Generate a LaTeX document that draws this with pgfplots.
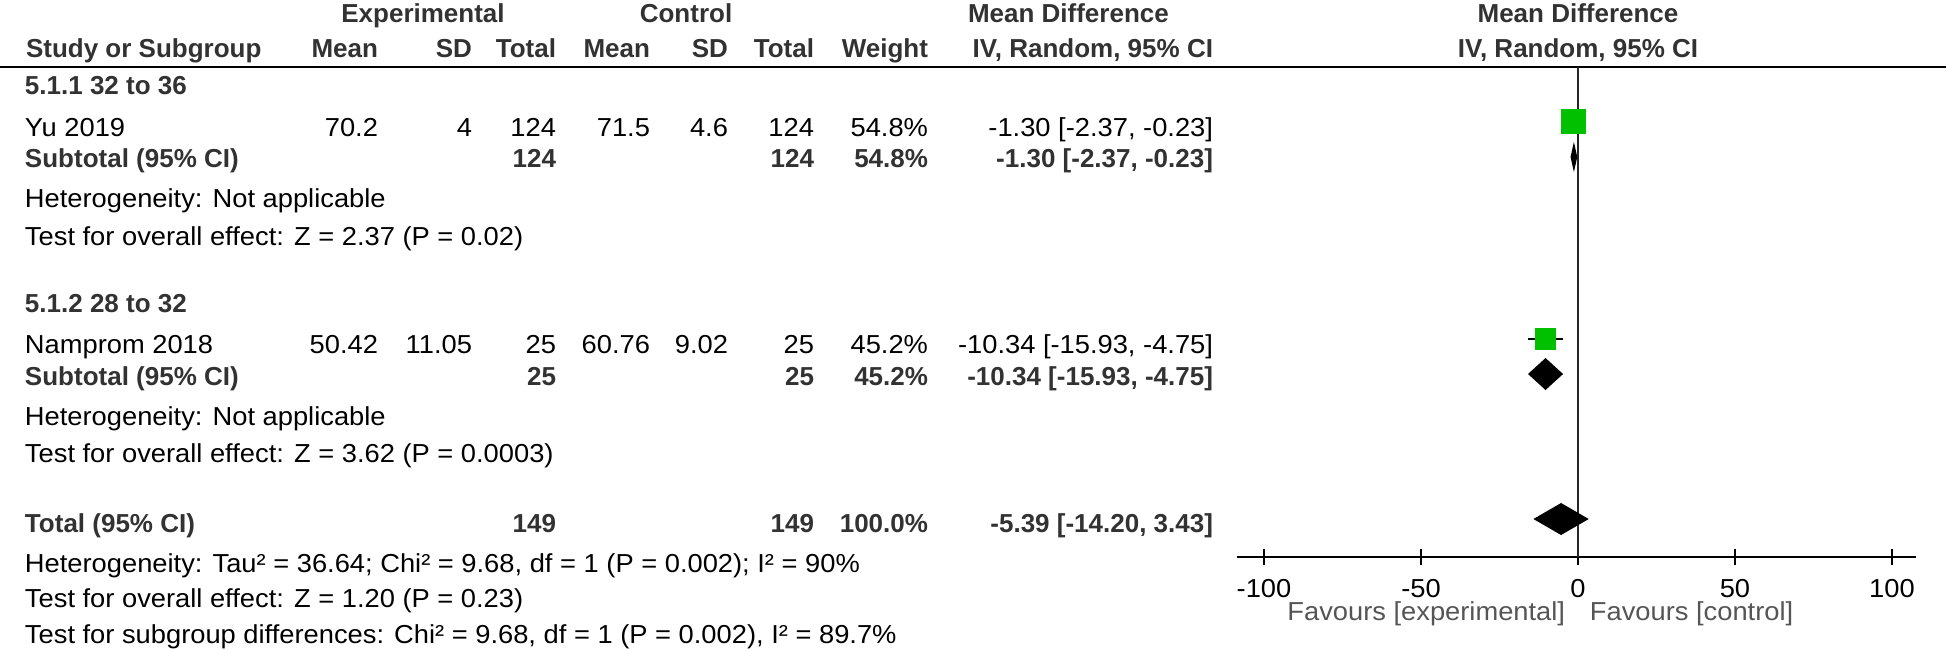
\documentclass[border=0pt]{standalone}
\usepackage{fontspec}
\setmainfont{Liberation Sans}[FakeStretch=1.05]
\newfontfamily\bfam{Liberation Sans}[FakeStretch=1.0]
\usepackage{pgfplots}
\pgfplotsset{compat=1.18}
\definecolor{sqgreen}{RGB}{0,192,0}
\definecolor{bt}{RGB}{50,50,50}
\definecolor{fav}{RGB}{85,85,85}
\newcommand{\BT}[1]{{\bfam\bfseries\color{bt}#1}}
\newcommand{\cR}[3]{\node[anchor=base east] at (#1,#2) {#3};}
\newcommand{\cRB}[3]{\node[anchor=base east] at (#1,#2) {\BT{#3}};}
\newcommand{\cL}[2]{\node[anchor=base west] at (25,#1) {#2};}
\begin{document}
\begin{tikzpicture}[every node/.style={font=\fontsize{13pt}{15pt}\selectfont, inner sep=0pt, outer sep=0pt}]
\begin{scope}[x=0.5pt,y=-0.5pt]
\path[use as bounding box] (0,0) rectangle (1946,649);
\draw[line width=1pt] (0,66.5) -- (1946,66.5);
% group headers
\node[anchor=base] at (423,22) {\BT{Experimental}};
\node[anchor=base] at (686,22) {\BT{Control}};
\node[anchor=base west] at (968,22) {\BT{Mean Difference}};
\node[anchor=base] at (1578,22) {\BT{Mean Difference}};
% column headers
\node[anchor=base west] at (26,57) {\BT{Study or Subgroup}};
\cRB{378}{57}{Mean}
\cRB{472}{57}{SD}
\cRB{556}{57}{Total}
\cRB{650}{57}{Mean}
\cRB{728}{57}{SD}
\cRB{814}{57}{Total}
\cRB{928}{57}{Weight}
\cRB{1213}{57}{IV, Random, 95\% CI}
\node[anchor=base] at (1578,57) {\BT{IV, Random, 95\% CI}};
% subgroup 1
\cL{94}{\BT{5.1.1 32 to 36}}
\cL{136}{Yu 2019}
\cR{378}{136}{70.2}
\cR{472}{136}{4}
\cR{556}{136}{124}
\cR{650}{136}{71.5}
\cR{728}{136}{4.6}
\cR{814}{136}{124}
\cR{928}{136}{54.8\%}
\cR{1213}{136}{-1.30 [-2.37, -0.23]}
\cL{167}{\BT{Subtotal (95\% CI)}}
\cRB{556}{167}{124}
\cRB{814}{167}{124}
\cRB{928}{167}{54.8\%}
\cRB{1213}{167}{-1.30 [-2.37, -0.23]}
\cL{207}{Heterogeneity: Not applicable}
\cL{245}{Test for overall effect: Z = 2.37 (P = 0.02)}
% subgroup 2
\cL{312}{\BT{5.1.2 28 to 32}}
\cL{353}{Namprom 2018}
\cR{378}{353}{50.42}
\cR{472}{353}{11.05}
\cR{556}{353}{25}
\cR{650}{353}{60.76}
\cR{728}{353}{9.02}
\cR{814}{353}{25}
\cR{928}{353}{45.2\%}
\cR{1213}{353}{-10.34 [-15.93, -4.75]}
\cL{385}{\BT{Subtotal (95\% CI)}}
\cRB{556}{385}{25}
\cRB{814}{385}{25}
\cRB{928}{385}{45.2\%}
\cRB{1213}{385}{-10.34 [-15.93, -4.75]}
\cL{425}{Heterogeneity: Not applicable}
\cL{462}{Test for overall effect: Z = 3.62 (P = 0.0003)}
% total
\cL{532}{\BT{Total (95\% CI)}}
\cRB{556}{532}{149}
\cRB{814}{532}{149}
\cRB{928}{532}{100.0\%}
\cRB{1213}{532}{-5.39 [-14.20, 3.43]}
\cL{572}{Heterogeneity: Tau² = 36.64; Chi² = 9.68, df = 1 (P = 0.002); I² = 90\%}
\cL{607}{Test for overall effect: Z = 1.20 (P = 0.23)}
\cL{643}{Test for subgroup differences: Chi² = 9.68, df = 1 (P = 0.002), I² = 89.7\%}
\end{scope}
\begin{axis}[
  at={(618.5pt,-278.5pt)}, anchor=south west,
  scale only axis, width=339.4pt, height=278.5pt,
  xmin=-108.6, xmax=107.6, ymin=-557, ymax=0,
  axis x line=bottom, axis y line=none,
  x axis line style={line width=1pt, -},
  xtick={-100,-50,0,50,100},
  xticklabels={-100,-50,0,50,100},
  tick align=center, major tick length=8pt,
  every tick/.style={line width=1pt, black},
  xticklabel style={anchor=base, yshift=-16pt},
  clip=false,
]
% line of no effect
\addplot[line width=1pt, color=black!85] coordinates {(0,-66.5) (0,-557)};
% study CIs
\addplot[line width=1pt, black] coordinates {(-2.37,-121) (-0.23,-121)};
\addplot[line width=1pt, black] coordinates {(-15.93,-339) (-4.75,-339)};
% study squares (size by weight)
\addplot[only marks, color=sqgreen, mark=square*, mark size=6pt, mark options={draw=sqgreen, fill=sqgreen, line width=0pt}] coordinates {(-1.30,-121)};
\addplot[only marks, color=sqgreen, mark=square*, mark size=5.1pt, mark options={draw=sqgreen, fill=sqgreen, line width=0pt}] coordinates {(-10.34,-339)};
% pooled diamonds
\addplot[fill=black, draw=none] coordinates {(-2.37,-157) (-1.30,-142) (-0.23,-157) (-1.30,-172)} --cycle;
\addplot[fill=black, draw=none] coordinates {(-15.93,-374) (-10.34,-358) (-4.75,-374) (-10.34,-390)} --cycle;
\addplot[fill=black, draw=none] coordinates {(-14.20,-519) (-5.39,-503) (3.43,-519) (-5.39,-535)} --cycle;
\node[anchor=base east, text=fav] at (axis cs:-4.1,-620) {Favours [experimental]};
\node[anchor=base west, text=fav] at (axis cs:3.8,-620) {Favours [control]};
\end{axis}
\end{tikzpicture}
\end{document}
